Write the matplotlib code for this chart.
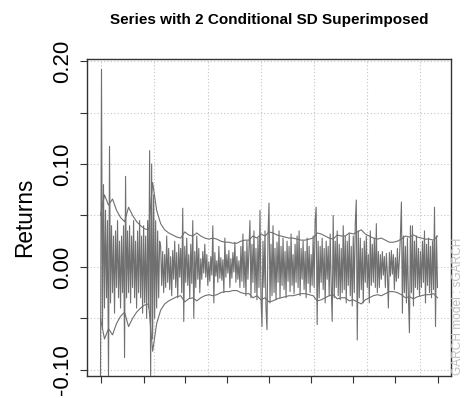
import numpy as np
import matplotlib
matplotlib.use("Agg")
import matplotlib.pyplot as plt

plt.rcParams['font.family'] = ['Liberation Sans', 'DejaVu Sans']

# daily returns (x1000), one value per pixel column
returns_k = [
    -108, 192, -60, 80, -40, 55, -30, 45, -110, 117, -35, 40, -25, 30, -45, 35, -20, 45, -30, 25,
    -40, 30, -25, 40, -88, 88, -30, 35, -25, 40, -35, 30, -20, 45, -30, 25, -40, 35, -25, 45,
    -30, 30, -45, 40, -35, 30, -50, 45, -40, 113, -110, 100, -70, 70, -50, 45, -40, 35, -30, 25,
    20, -18, 15, -25, 12, -20, 30, -15, 18, -22, 10, -28, 16, -12, 25, -20, 14, -30, 22, -10,
    18, -25, 57, -53, 20, -15, 28, -18, 12, -30, 22, -16, 45, -50, 15, -20, 30, -12, 18, -25,
    8, -12, 15, -6, 22, -10, 12, -18, 5, -14, 10, -8, 40, -35, 14, -9, 6, -15, 20, -11,
    9, -13, 7, -25, 28, -10, 12, -6, 16, -20, 8, -11, 14, -5, 24, -15, 10, -12, 6, -20,
    20, -14, 32, -20, 15, -28, 25, -12, 18, 45, -30, 22, -15, 35, -25, 18, -32, 28, -20, 55,
    -30, -58, 25, -20, 35, -40, -61, 30, 62, -35, 22, -28, 40, -25, 18, -32, 24, -15, 35, -30,
    20, -18, 28, -22, 15, -30, 25, -14, 20, -24, 32, -18, 12, -26, 22, -15, 30, -20, 35, -28,
    18, -12, 25, -22, 15, -30, 28, -16, 20, -25, 12, -18, 30, -20, 45, 58, -56, 25, -30, 20,
    -15, 28, -22, 18, -35, 25, -12, 20, -28, 32, -18, -53, 50, -30, 25, -20, 35, -28, 22, -32,
    18, -25, 40, -22, 30, -35, 25, -18, 32, -28, 20, -38, 30, -25, 42, 65, -71, 35, -30, 28,
    -22, 18, -35, 25, -15, 30, -20, 12, -35, 35, -18, 22, -15, 28, -20, 42, -25, 15, -20, 12,
    -12, 15, -8, 10, -20, 13, -6, -40, 14, -9, 16, -7, 12, -22, 9, -14, 18, -11, 8, 30,
    63, -45, 30, -25, 20, -35, 28, -30, -64, 40, -25, 40, -38, 25, -20, 30, -22, 18, -28, 15,
    -20, 25, -15, 35, -35, 22, -18, 28, -25, 20, -30, 25, -22, 58, -58, 30, -20,
]

# 2 x conditional sd (x1000), every 4th observation
band_k = [
    50, 70, 60, 66, 55, 48, 44, 58, 50, 44, 40, 37, 36, 82, 55, 42, 36, 33, 31, 29,
    28, 34, 31, 30, 33, 30, 28, 27, 28, 27, 25, 24, 24, 23, 23, 25, 26, 26, 30, 28,
    32, 30, 34, 33, 31, 30, 29, 28, 28, 27, 26, 26, 27, 28, 33, 32, 30, 28, 27, 31,
    30, 30, 33, 32, 34, 36, 32, 30, 28, 27, 28, 26, 24, 24, 25, 27, 30, 29, 31, 29,
    28, 27, 27, 26, 30,
]
band_step = 4

xtick_idx = [1, 43, 84, 126, 168, 210, 252, 294, 336]
xgrid_idx = [1, 53, 107, 160, 213, 266, 319]
ytick_vals = [-0.10, -0.05, 0.00, 0.05, 0.10, 0.15, 0.20]
ytick_labels = ['-0.10', '', '0.00', '', '0.10', '', '0.20']

ret = np.array(returns_k) / 1000.0
band = np.array(band_k) / 1000.0
t = np.arange(len(ret))
tb = np.arange(len(band)) * band_step

fig = plt.figure(figsize=(4.65, 3.98), dpi=100)
ax = fig.add_axes([87 / 465, 1 - 376 / 398, 364 / 465, 317 / 398])

line_col = '#707070'
ax.plot(t, ret, color=line_col, lw=0.8, zorder=3)
ax.plot(tb, band, color=line_col, lw=0.8, zorder=3)
ax.plot(tb, -band, color=line_col, lw=0.8, zorder=3)

# dotted grid
for g in xgrid_idx:
    ax.axvline(g, color='#c4c4c4', lw=0.8, ls=(0, (1, 2)), zorder=1)
for v in ytick_vals:
    ax.axhline(v, color='#c4c4c4', lw=0.8, ls=(0, (1, 2)), zorder=1)

n = len(ret) - 1
ax.set_xlim(-0.04 * n, n * 1.04)
ax.set_ylim(-0.106, 0.202)

ax.set_xticks(xtick_idx)
ax.set_xticklabels([])
ax.set_yticks(ytick_vals)
ax.set_yticklabels(ytick_labels, rotation=90, va='center', fontsize=16)
ax.tick_params(axis='both', length=5, width=0.8, color='#333333', pad=5)
for s in ax.spines.values():
    s.set_color('#333333')
    s.set_linewidth(1.0)

fig.text(269 / 465, 1 - 24 / 398, 'Series with 2 Conditional SD Superimposed',
         ha='center', va='baseline', fontsize=11, fontweight='bold')
fig.text(25 / 465, 1 - 217.5 / 398, 'Returns', rotation=90, ha='center', va='center',
         fontsize=16.3)
fig.text(458 / 465, 1 - 375 / 398, 'GARCH model : sGARCH', rotation=90,
         ha='center', va='bottom', fontsize=8.6, color='#bdbdbd')

fig.savefig('out.png', dpi=100)
